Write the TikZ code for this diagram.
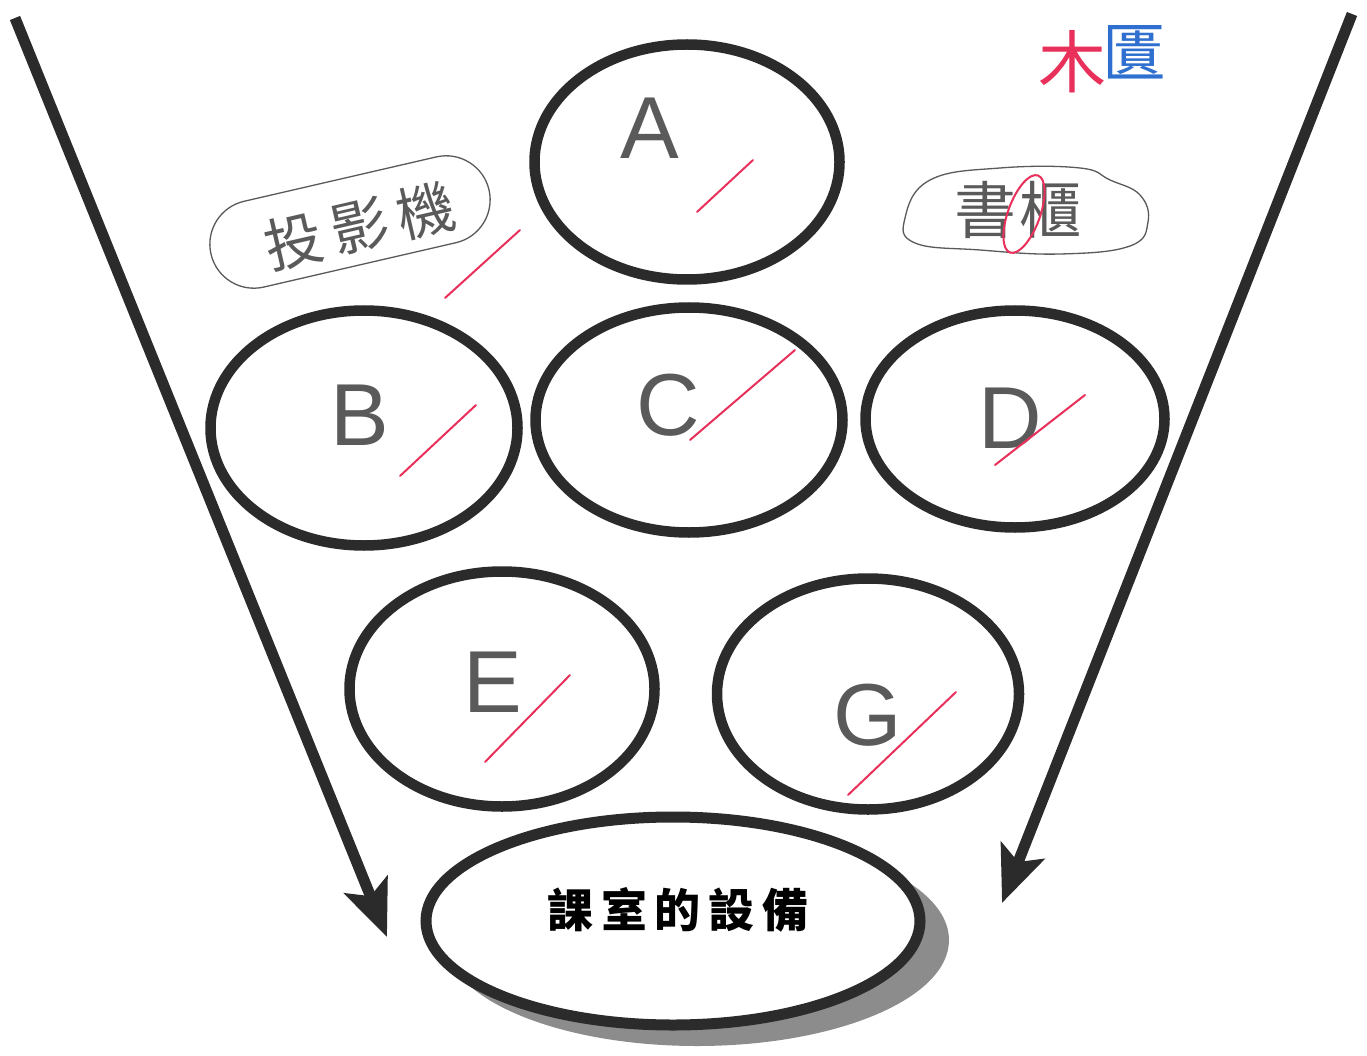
\documentclass[tikz,border=0pt]{standalone}
\usepackage{fontspec}
\newfontfamily\cjk{Noto Sans CJK TC}
\setsansfont{Liberation Sans}
\usetikzlibrary{arrows.meta,shapes.geometric,shapes.misc}
\definecolor{ink}{HTML}{2B2B2B}
\definecolor{pencil}{HTML}{5A5A5A}
\definecolor{redpen}{HTML}{E8305A}
\definecolor{bluepen}{HTML}{2E6FD0}
\tikzset{
  ring/.style={draw=ink, line width=10.5pt, ellipse, inner sep=0pt},
  letter/.style={text=pencil, font=\sffamily\fontsize{88}{88}\selectfont, inner sep=0pt},
  redmark/.style={draw=redpen, line width=2pt, line cap=round},
  bigarrow/.style={draw=ink, line width=11pt, -{Stealth[length=56pt,width=46pt,inset=12pt]}},
  hand/.style={text=pencil, font=\cjk\fontsize{58}{58}\selectfont, inner sep=0pt},
}
\begin{document}
\begin{tikzpicture}[x=1pt,y=-1pt]
\useasboundingbox (0,0) rectangle (1367,1056);
\fill[white] (0,0) rectangle (1367,1056);

% arrows
\coordinate (L0) at (15,18);
\coordinate (L1) at (387,937);
\coordinate (R0) at (1352,14);
\coordinate (R1) at (1002,903);
\draw[bigarrow] (L0) -- (L1);
\draw[bigarrow] (R0) -- (R1);

% ellipses
\node[ring, minimum width=305pt, minimum height=235pt] (A) at (687,162) {};
\node[ring, minimum width=307pt, minimum height=235pt] (B) at (364,428) {};
\node[ring, minimum width=307pt, minimum height=225pt] (C) at (689,420) {};
\node[ring, minimum width=299pt, minimum height=217pt] (D) at (1015,419) {};
\node[ring, minimum width=305pt, minimum height=235pt] (E) at (502,689) {};
\node[ring, minimum width=302pt, minimum height=231pt] (G) at (868,694) {};

% letters
\node[letter] (tA) at (650,128) {A};
\node[letter] (tB) at (360,415) {B};
\node[letter] (tC) at (668,405) {C};
\node[letter] (tD) at (1010,418) {D};
\node[letter] (tE) at (493,682) {E};
\node[letter] (tG) at (868,715) {G};

% red marks
\coordinate (mA0) at (697,212); \coordinate (mA1) at (753,160);
\coordinate (mB0) at (400,476); \coordinate (mB1) at (476,405);
\coordinate (mC0) at (690,440); \coordinate (mC1) at (795,350);
\coordinate (mD0) at (995,465); \coordinate (mD1) at (1085,395);
\coordinate (mE0) at (485,762); \coordinate (mE1) at (570,675);
\coordinate (mG0) at (848,795); \coordinate (mG1) at (956,692);
\coordinate (mP0) at (445,298); \coordinate (mP1) at (520,230);
\draw[redmark] (mA0) -- (mA1);
\draw[redmark] (mB0) -- (mB1);
\draw[redmark] (mC0) -- (mC1);
\draw[redmark] (mD0) -- (mD1);
\draw[redmark] (mE0) -- (mE1);
\draw[redmark] (mG0) -- (mG1);
\draw[redmark] (mP0) -- (mP1);

% bottom ellipse with shadow
\fill[black!45] (697,940) ellipse [x radius=252pt, y radius=106pt];
\node[ring, fill=white, line width=11pt, minimum width=494pt, minimum height=208pt] (Z) at (673,921) {};
\node[font=\cjk\bfseries\fontsize{46}{46}\selectfont, text=black] (tZ) at (678,910) {課\,室\,的\,設\,備};

% cloud 1
\node[draw=pencil, line width=1.3pt, rounded rectangle, rotate=13,
      minimum width=292pt, minimum height=88pt] (cloud1) at (350,222) {};
\node[hand, rotate=13] (t1) at (360,226) {投\hspace{10pt}影\hspace{10pt}機};

% cloud 2
\draw[pencil, line width=1.3pt] plot[smooth cycle, tension=0.7] coordinates
  {(905,218) (930,180) (1000,168) (1080,168) (1110,180) (1140,195) (1148,222)
   (1130,246) (1060,254) (980,250) (915,243)};
\node[hand, font=\cjk\fontsize{62}{62}\selectfont] (t2) at (1018,210) {書\hspace{4pt}櫃};
\node[draw=redpen, line width=2pt, ellipse, rotate=-20, minimum width=32pt, minimum height=82pt] (circ) at (1024,214) {};

% top right correction
\node[text=redpen, font=\cjk\fontsize{68}{68}\selectfont, inner sep=0pt] (k1) at (1072,62) {木};
\node[text=bluepen, font=\cjk\fontsize{64}{64}\selectfont, inner sep=0pt] (k2) at (1134,52) {匱};
\end{tikzpicture}
\end{document}
